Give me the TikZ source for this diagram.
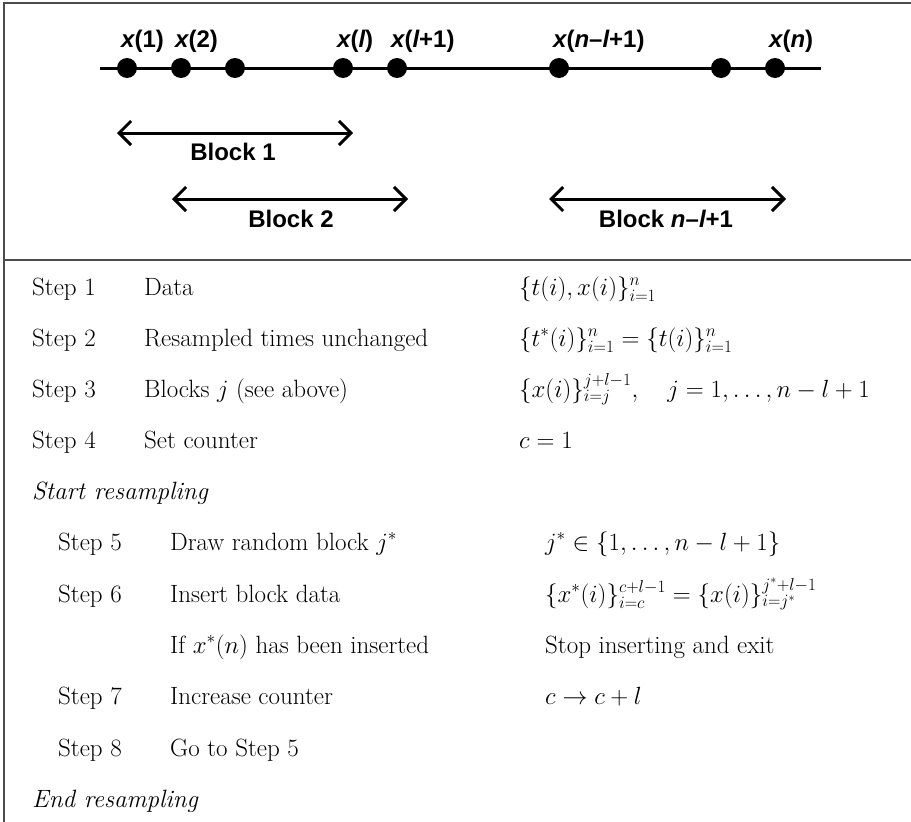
\documentclass[tikz,border=0pt]{standalone}
\usepackage{fontspec}
\usetikzlibrary{arrows.meta}
\newfontfamily\arialfont[Ligatures=TeX]{Liberation Sans}
\begin{document}
\begin{tikzpicture}[x=1pt,y=-1pt,
  frameline/.style={draw=black!70,line width=1.5pt},
  dot/.style={circle,fill=black,inner sep=0pt,minimum size=20pt},
  xlabel/.style={inner sep=0pt,anchor=base west,font=\arialfont\bfseries\fontsize{24}{28}\selectfont},
  blocklabel/.style={inner sep=0pt,anchor=base,font=\arialfont\bfseries\fontsize{24}{28}\selectfont},
  blockarrow/.style={line width=3pt,{Straight Barb[length=12pt,width=24pt,line width=3pt]}-{Straight Barb[length=12pt,width=24pt,line width=3pt]}},
  txt/.style={inner sep=0pt,anchor=base west,font=\fontsize{25}{30}\selectfont}]
\useasboundingbox (0,0) rectangle (911,822);
\fill[white] (0,0) rectangle (911,822);
% frame
\coordinate (tl) at (4,3);
\coordinate (tr) at (911,3);
\coordinate (bl) at (4,822);
\coordinate (ml) at (4,260);
\coordinate (mr) at (911,260);
\draw[frameline] (bl) -- (tl) -- (tr);
\draw[frameline] (ml) -- (mr);
% time axis
\coordinate (axl) at (100,68);
\coordinate (axr) at (821,68);
\draw[line width=3pt] (axl) -- (axr);
\foreach \n/\px in {d1/127,d2/181,d3/235,d4/343,d5/397,d6/559,d7/721,d8/775}
  \node[dot] (\n) at (\px,68) {};
\node[xlabel] (l1) at (121,47) {\itshape x\upshape(1)};
\node[xlabel] (l2) at (175,47) {\itshape x\upshape(2)};
\node[xlabel] (l4) at (337,47) {\itshape x\upshape(\itshape l\upshape)};
\node[xlabel] (l5) at (391,47) {\itshape x\upshape(\itshape l\upshape+1)};
\node[xlabel] (l6) at (553,47) {\itshape x\upshape(\itshape n\upshape–\itshape l\upshape+1)};
\node[xlabel] (l8) at (769,47) {\itshape x\upshape(\itshape n\upshape)};
% block arrows
\coordinate (b1l) at (117,133);
\coordinate (b1r) at (353,133);
\coordinate (b2l) at (172,199);
\coordinate (b2r) at (408,199);
\coordinate (b3l) at (549,199);
\coordinate (b3r) at (786,199);
\draw[blockarrow] (b1l) -- (b1r);
\draw[blockarrow] (b2l) -- (b2r);
\draw[blockarrow] (b3l) -- (b3r);
\node[blocklabel] (bk1) at (233,160) {Block 1};
\node[blocklabel] (bk2) at (291,227) {Block 2};
\node[blocklabel] (bk3) at (666,227) {Block \itshape n\upshape–\itshape l\upshape+1};
% steps
\node[txt] (s1) at (32,295) {Step 1};
\node[txt] (s1d) at (144,295) {Data};
\node[txt] (s1m) at (519,295) {$\{t(i),x(i)\}_{i=1}^n$};
\node[txt] (s2) at (32,346) {Step 2};
\node[txt] (s2d) at (144,346) {Resampled times unchanged};
\node[txt] (s2m) at (519,346) {$\{t^*(i)\}_{i=1}^n=\{t(i)\}_{i=1}^n$};
\node[txt] (s3) at (32,397) {Step 3};
\node[txt] (s3d) at (144,397) {Blocks $j$ (see above)};
\node[txt] (s3m) at (519,397) {$\{x(i)\}_{i=j}^{j+l-1},\quad j=1,\ldots,n-l+1$};
\node[txt] (s4) at (32,448) {Step 4};
\node[txt] (s4d) at (144,448) {Set counter};
\node[txt] (s4m) at (519,448) {$c=1$};
\node[txt] (sr) at (32,499) {\itshape Start resampling};
\node[txt] (s5) at (58,550) {Step 5};
\node[txt] (s5d) at (170,550) {Draw random block $j^*$};
\node[txt] (s5m) at (545,550) {$j^*\in\{1,\ldots,n-l+1\}$};
\node[txt] (s6) at (58,602) {Step 6};
\node[txt] (s6d) at (170,602) {Insert block data};
\node[txt] (s6m) at (545,602) {$\{x^*(i)\}_{i=c}^{c+l-1}=\{x(i)\}_{i=j^*}^{j^*+l-1}$};
\node[txt] (ifd) at (170,653) {If $x^*(n)$ has been inserted};
\node[txt] (ifm) at (545,653) {Stop inserting and exit};
\node[txt] (s7) at (58,704) {Step 7};
\node[txt] (s7d) at (170,704) {Increase counter};
\node[txt] (s7m) at (545,704) {$c\to c+l$};
\node[txt] (s8) at (58,756) {Step 8};
\node[txt] (s8d) at (170,756) {Go to Step 5};
\node[txt] (er) at (32,807) {\itshape End resampling};
\end{tikzpicture}
\end{document}
